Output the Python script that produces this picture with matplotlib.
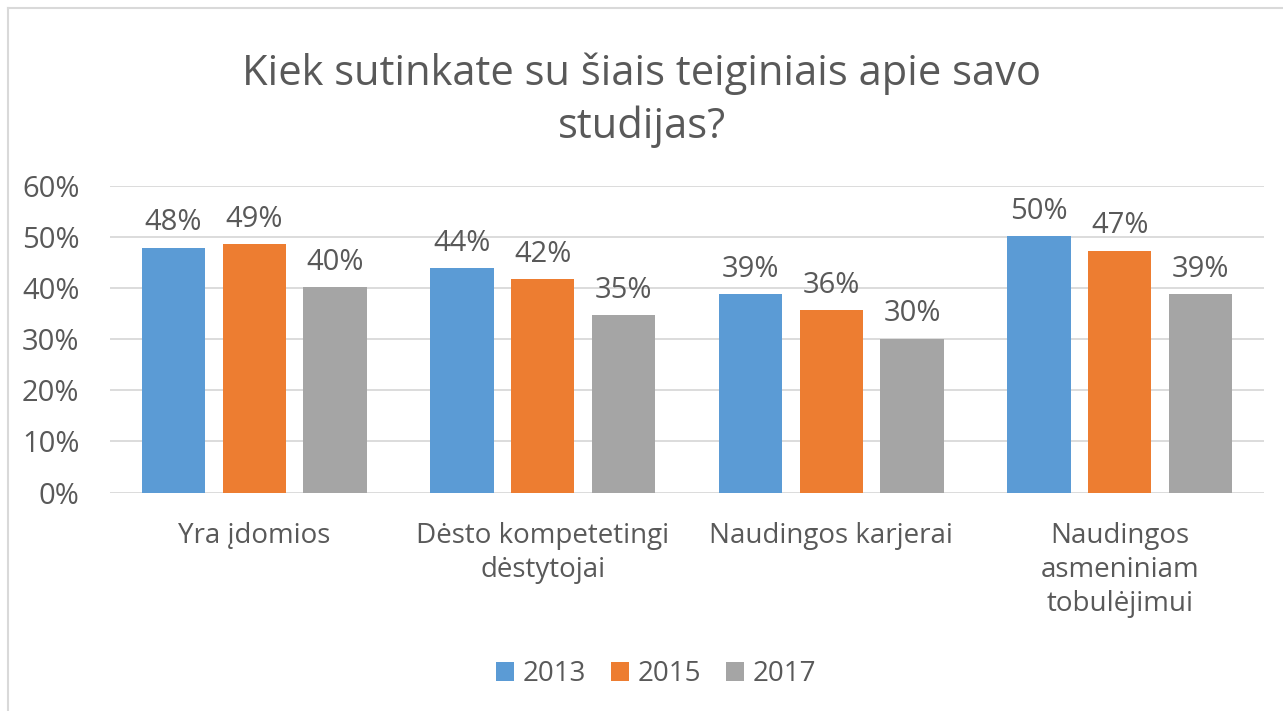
import numpy as np
import matplotlib
matplotlib.use('Agg')
import matplotlib.pyplot as plt
from matplotlib.lines import Line2D

plt.rcParams['font.family'] = ['Open Sans', 'DejaVu Sans']

# data
categories = ['Yra įdomios', 'Dėsto kompetetingi\ndėstytojai', 'Naudingos karjerai',
              'Naudingos\nasmeniniam\ntobulėjimui']
years = ['2013', '2015', '2017']
v2013 = [0.479, 0.439, 0.388, 0.502]
v2015 = [0.486, 0.418, 0.357, 0.473]
v2017 = [0.402, 0.347, 0.301, 0.388]
colors = ['#5b9bd5', '#ed7d31', '#a5a5a5']
txt = '#595959'

fig = plt.figure(figsize=(12.83, 7.11), dpi=100)
ax = fig.add_axes([110/1283, 1-492.5/711, 1154/1283, (492.5-185.7)/711])

x = np.arange(len(categories))
width = 0.22
step = 0.28
for i, (vals, yr) in enumerate(zip([v2013, v2015, v2017], years)):
    bars = ax.bar(x + (i-1)*step, vals, width, color=colors[i], label=yr, zorder=3)
    for b, v in zip(bars, vals):
        ax.text(b.get_x() + b.get_width()/2, v + 0.02, '{:.0f}%'.format(v*100),
                ha='center', va='bottom', fontsize=21, color=txt)

ax.set_xlim(-0.5, len(categories)-0.5)
ax.set_ylim(0, 0.6)
ax.set_yticks(np.arange(0, 0.61, 0.1))
ax.set_yticklabels(['{:.0f}%'.format(t*100) for t in np.arange(0, 0.61, 0.1)])
ax.yaxis.grid(True, color='#d9d9d9', lw=1.3, zorder=0)
ax.set_xticks(x)
ax.set_xticklabels(categories, linespacing=1.3, va='top')
ax.tick_params(axis='both', length=0, labelsize=20, colors=txt)
ax.tick_params(axis='y', labelsize=21, pad=22)
ax.tick_params(axis='x', pad=21)
for s in ax.spines.values():
    s.set_visible(False)

fig.text(0.5, 1-100/711, 'Kiek sutinkate su šiais teiginiais apie savo\nstudijas?',
         ha='center', va='center', fontsize=30, color=txt, linespacing=1.32)

leg = fig.legend(loc='center', bbox_to_anchor=(656/1283, 1-674/711), ncol=3, frameon=False,
                 fontsize=20, handlelength=0.65, handleheight=0.65, handletextpad=0.3,
                 columnspacing=0.9, labelcolor=txt)

# chart border (top and left only visible)
fig.add_artist(Line2D([8/1283, 1], [1-8/711, 1-8/711], color='#d9d9d9', lw=1.5))
fig.add_artist(Line2D([8/1283, 8/1283], [0, 1-8/711], color='#d9d9d9', lw=1.5))

fig.savefig('out.png', dpi=100)
